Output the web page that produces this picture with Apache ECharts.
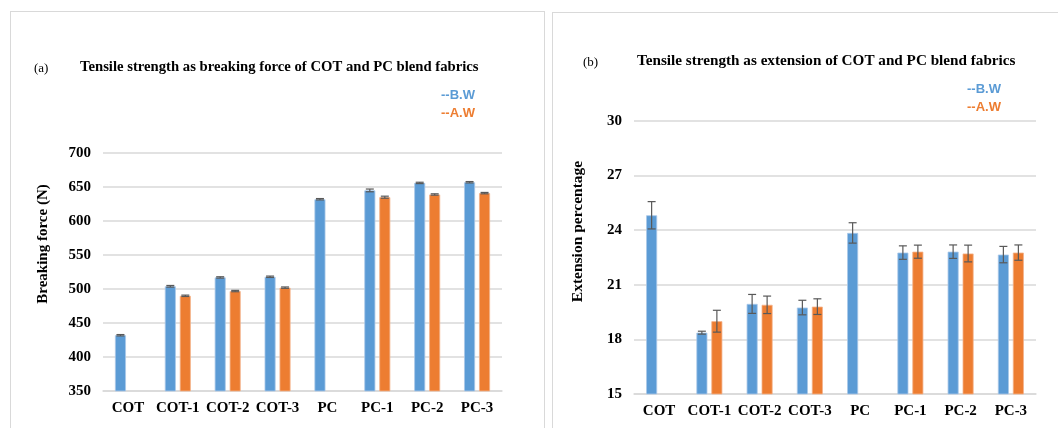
<!DOCTYPE html>
<html>
<head>
<meta charset="utf-8">
<script src="https://cdn.jsdelivr.net/npm/echarts@6/dist/echarts.min.js"></script>
<style>
  html, body { margin: 0; padding: 0; background: #fff; width: 1058px; height: 428px; overflow: hidden; }
  .panel { position: absolute; border: 1px solid #d9d9d9; background: #fff; }
  #chart-force { left: 10px; top: 11px; width: 533px; height: 420px; }
  #chart-ext { left: 552px; top: 12px; width: 510px; height: 420px; }
</style>
</head>
<body>
<div id="chart-force" class="panel"></div>
<div id="chart-ext" class="panel"></div>
<script>
var categories = ['COT', 'COT-1', 'COT-2', 'COT-3', 'PC', 'PC-1', 'PC-2', 'PC-3'];

// (a) breaking force, N
var forceBW = [432, 504, 517, 518, 632, 645, 656, 657];
var forceAW = [null, 490, 497, 502, null, 635, 639, 641];
var forceBWErr = [1, 1.2, 1, 1, 1, 2, 1, 1];
var forceAWErr = [null, 1, 1, 1, null, 1.5, 1, 1];

// (b) extension percentage
var extBW = [24.82, 18.37, 19.95, 19.75, 23.85, 22.77, 22.82, 22.66];
var extAW = [null, 19.0, 19.9, 19.8, null, 22.82, 22.72, 22.77];
var extBWErr = [0.75, 0.08, 0.52, 0.4, 0.56, 0.37, 0.37, 0.45];
var extAWErr = [null, 0.6, 0.48, 0.43, null, 0.36, 0.46, 0.42];

var blue = '#5b9bd5';
var orange = '#ed7d31';
var serif = 'Liberation Serif';

function errData(vals, errs) {
  var out = [];
  for (var i = 0; i < vals.length; i++) {
    if (vals[i] == null) continue;
    out.push([i, vals[i] - errs[i], vals[i] + errs[i]]);
  }
  return out;
}

function errSeries(data, offset) {
  return {
    type: 'custom',
    silent: true,
    z: 5,
    data: data,
    encode: { x: 0, y: [1, 2] },
    renderItem: function (params, api) {
      var lo = api.coord([api.value(0), api.value(1)]);
      var hi = api.coord([api.value(0), api.value(2)]);
      var x = lo[0] + offset;
      var w = 4;
      var style = { stroke: '#595959', lineWidth: 1.2 };
      return {
        type: 'group',
        children: [
          { type: 'line', shape: { x1: x, y1: lo[1], x2: x, y2: hi[1] }, style: style },
          { type: 'line', shape: { x1: x - w, y1: lo[1], x2: x + w, y2: lo[1] }, style: style },
          { type: 'line', shape: { x1: x - w, y1: hi[1], x2: x + w, y2: hi[1] }, style: style }
        ]
      };
    }
  };
}

function makeOption(o) {
  return {
    animation: false,
    title: [
      { text: o.tag, left: o.tagLeft, top: o.titleTop + 2,
        textStyle: { fontFamily: serif, fontWeight: 'normal', fontSize: 13, color: '#000' } },
      { text: o.title, left: o.titleLeft, top: o.titleTop,
        textStyle: { fontFamily: serif, fontWeight: 'bold', fontSize: o.titleSize, color: '#000' } }
    ],
    legend: {
      orient: 'vertical',
      left: o.legendLeft,
      top: o.legendTop,
      itemWidth: 0,
      itemHeight: 0,
      itemGap: 5,
      icon: 'none',
      selectedMode: false,
      formatter: '--{name}',
      textStyle: { fontFamily: 'Liberation Sans', fontWeight: 'bold', fontSize: 13, padding: 0 },
      data: [
        { name: 'B.W', textStyle: { color: blue } },
        { name: 'A.W', textStyle: { color: orange } }
      ]
    },
    grid: o.grid,
    xAxis: {
      type: 'category',
      data: categories,
      axisLine: { lineStyle: { color: '#d9d9d9', width: 1.5 } },
      axisTick: { show: false },
      axisLabel: { fontFamily: serif, fontWeight: 'bold', fontSize: 15, color: '#000', margin: 10, interval: 0 }
    },
    yAxis: {
      type: 'value',
      min: o.min,
      max: o.max,
      interval: o.interval,
      name: o.yName,
      nameLocation: 'middle',
      nameRotate: 90,
      nameGap: o.nameGap,
      nameTextStyle: { fontFamily: serif, fontWeight: 'bold', fontSize: o.nameSize, color: '#000', padding: [0, 0, 0, o.namePad] },
      axisLine: { show: false },
      axisTick: { show: false },
      axisLabel: { fontFamily: serif, fontWeight: 'bold', fontSize: 15, color: '#000', margin: 12 },
      splitLine: { lineStyle: { color: '#d9d9d9', width: 1.5 } }
    },
    series: [
      { name: 'B.W', type: 'bar', data: o.bw, barWidth: 11, barGap: '36%',
        itemStyle: { color: blue, borderColor: '#a9c8e8', borderWidth: 0.8 } },
      { name: 'A.W', type: 'bar', data: o.aw, barWidth: 11, barGap: '36%',
        itemStyle: { color: orange, borderColor: '#f4b28a', borderWidth: 0.8 } },
      errSeries(errData(o.bw, o.bwErr), -7.5),
      errSeries(errData(o.aw, o.awErr), 7.5)
    ]
  };
}

var myChartA = echarts.init(document.getElementById('chart-force'));
var myChartB = echarts.init(document.getElementById('chart-ext'));

myChartA.setOption(makeOption({
  tag: '(a)', tagLeft: 18, title: 'Tensile strength as breaking force of COT and PC blend fabrics',
  titleLeft: 64, titleTop: 43, titleSize: 14.7,
  legendLeft: 420, legendTop: 72,
  grid: { left: 92, right: 42, top: 141, bottom: 41 },
  min: 350, max: 700, interval: 50,
  yName: 'Breaking force (N)', nameGap: 52, namePad: 56, nameSize: 15,
  bw: forceBW, aw: forceAW, bwErr: forceBWErr, awErr: forceAWErr
}));

myChartB.setOption(makeOption({
  tag: '(b)', tagLeft: 25, title: 'Tensile strength as extension of COT and PC blend fabrics',
  titleLeft: 79, titleTop: 36, titleSize: 15.2,
  legendLeft: 404, legendTop: 65,
  grid: { left: 81, right: 27, top: 108, bottom: 39 },
  min: 15, max: 30, interval: 3,
  yName: 'Extension percentage', nameGap: 48, namePad: 52, nameSize: 15.5,
  bw: extBW, aw: extAW, bwErr: extBWErr, awErr: extAWErr
}));

window.addEventListener('resize', function () {
  myChartA.resize();
  myChartB.resize();
});
</script>
</body>
</html>
